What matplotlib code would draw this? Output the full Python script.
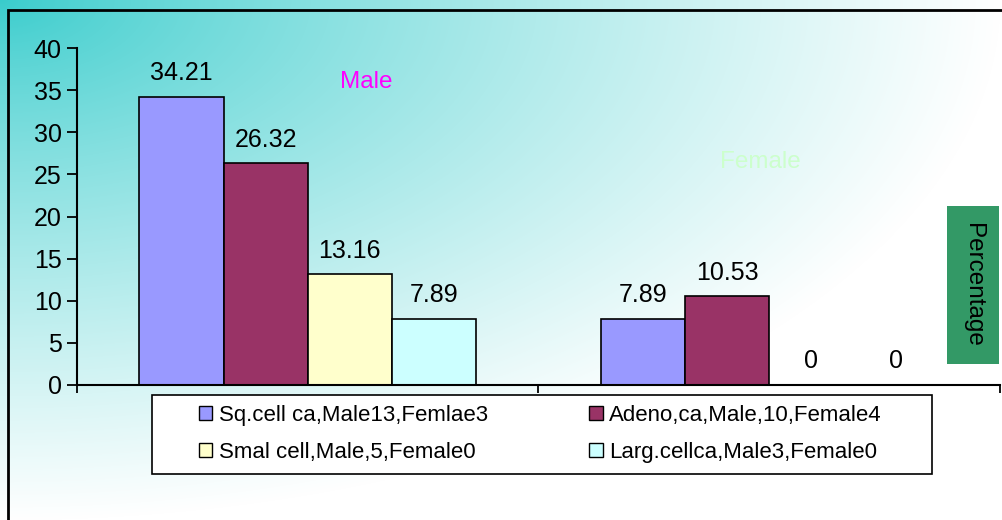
import numpy as np
import matplotlib.pyplot as plt
from matplotlib.patches import Rectangle

# data
groups = ['Male', 'Female']
series_names = ['Sq.cell ca,Male13,Femlae3', 'Adeno,ca,Male,10,Female4',
                'Smal cell,Male,5,Female0', 'Larg.cellca,Male3,Female0']
sq_cell = [34.21, 7.89]
adeno = [26.32, 10.53]
small_cell = [13.16, 0]
large_cell = [7.89, 0]
colors = ['#9999ff', '#993366', '#ffffcc', '#ccffff']
yticks = [0, 5, 10, 15, 20, 25, 30, 35, 40]

plt.rcParams['font.family'] = ['Liberation Sans', 'DejaVu Sans']

fig = plt.figure(figsize=(10.03, 5.20), dpi=100)

# background gradient (teal top-left fading to white)
bg = fig.add_axes([0, 0, 1, 1], zorder=-10)
H, W = 520, 1003
yy, xx = np.mgrid[0:H, 0:W]
t = np.sqrt((xx / 1000.0) ** 2 + (yy / 520.0) ** 2)
t = np.clip(t, 0, 1) ** 0.8
teal = np.array([0x38, 0xcc, 0xcc]) / 255.0
white = np.ones(3)
img = teal[None, None, :] * (1 - t[..., None]) + white[None, None, :] * t[..., None]
bg.imshow(img, aspect='auto', extent=[0, 1, 0, 1])
bg.axis('off')

# outer frame
fig.patches.append(Rectangle((8 / W, -0.2), 1.2, 1.2 - 10 / H, transform=fig.transFigure,
                             fill=False, edgecolor='black', linewidth=2, clip_on=False))

ax = fig.add_axes([77 / W, 1 - 385 / H, 923 / W, 337 / H])
ax.set_facecolor('none')

x = np.arange(len(groups))
bw = 0.1825
all_series = [sq_cell, adeno, small_cell, large_cell]
handles = []
for i, (vals, c, name) in enumerate(zip(all_series, colors, series_names)):
    pos = x + (i - 1.5) * bw
    bars = ax.bar(pos, vals, bw, color=c, edgecolor='black', linewidth=1.2, label=name)
    handles.append(bars)
    for b, v in zip(bars, vals):
        ax.annotate(f'{v:g}' if v == 0 else f'{v:.2f}', (b.get_x() + b.get_width() / 2, v),
                    xytext=(0, 17), textcoords='offset points', ha='center', va='center',
                    fontsize=18)

ax.set_xlim(-0.5, 1.5)
ax.set_ylim(0, 40)
ax.set_yticks(yticks)
ax.set_xticks([-0.5, 0.5, 1.5])
ax.set_xticklabels([])
ax.tick_params(axis='y', direction='out', length=7, width=1.3, labelsize=18, pad=4)
ax.tick_params(axis='x', direction='out', length=6, width=1.3)
for s in ['top', 'right']:
    ax.spines[s].set_visible(False)
for s in ['left', 'bottom']:
    ax.spines[s].set_linewidth(1.5)

# group labels
fig.text(366 / W, 1 - 82 / H, 'Male', color='#ff00ff', fontsize=17.5, ha='center', va='center')
fig.text(760 / W, 1 - 162 / H, 'Female', color='#ccffcc', fontsize=17.5, ha='center', va='center')

# Percentage box
fig.patches.append(Rectangle((947 / W, 1 - 364 / H), 52 / W, 158 / H, transform=fig.transFigure,
                             facecolor='#339966', edgecolor='none'))
fig.text(973 / W, 1 - 285 / H, 'Percentage', rotation=270, fontsize=17.5,
         ha='center', va='center')

# legend box, entries filled row by row like the original
fig.patches.append(Rectangle((152 / W, 1 - 474 / H), 780 / W, 79 / H, transform=fig.transFigure,
                             facecolor='white', edgecolor='black', linewidth=1.2, zorder=2))
order = [0, 2, 1, 3]
leg = fig.legend([handles[i] for i in order], [series_names[i] for i in order],
                 loc='center left', ncol=2, bbox_to_anchor=(199 / W, 1 - 434 / H),
                 frameon=False, prop={'size': 16},
                 handlelength=0.6, handleheight=0.6, handletextpad=0.3,
                 labelspacing=0.72, columnspacing=4.55, borderpad=0, borderaxespad=0)
leg.set_zorder(3)
for h in leg.legend_handles:
    h.set_linewidth(1.0)

fig.savefig('out.png', dpi=100)
